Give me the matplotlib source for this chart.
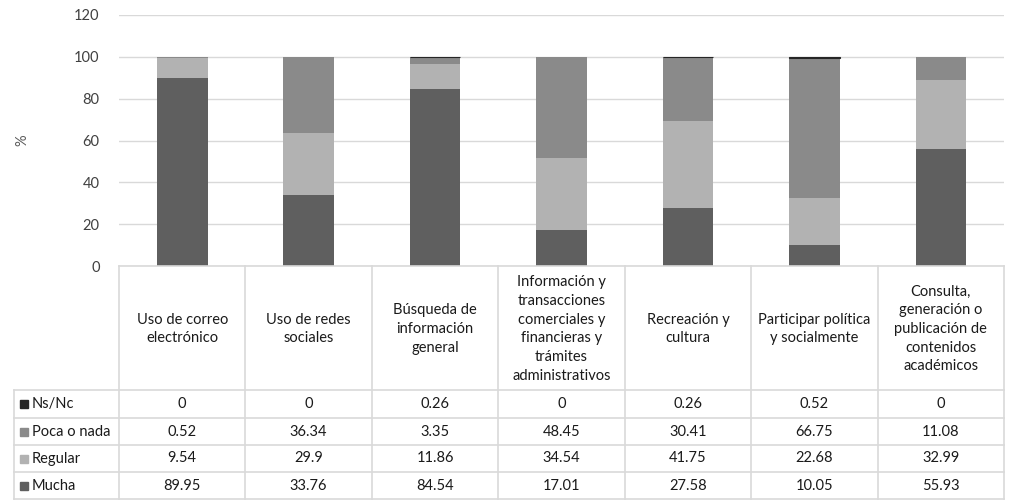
import matplotlib
matplotlib.use("Agg")
import matplotlib.pyplot as plt
import numpy as np

categories = [
    "Uso de correo\nelectrónico",
    "Uso de redes\nsociales",
    "Búsqueda de\ninformación\ngeneral",
    "Información y\ntransacciones\ncomerciales y\nfinancieras y\ntrámites\nadministrativos",
    "Recreación y\ncultura",
    "Participar política\ny socialmente",
    "Consulta,\ngeneración o\npublicación de\ncontenidos\nacadémicos",
]
mucha = [89.95, 33.76, 84.54, 17.01, 27.58, 10.05, 55.93]
regular = [9.54, 29.9, 11.86, 34.54, 41.75, 22.68, 32.99]
poca = [0.52, 36.34, 3.35, 48.45, 30.41, 66.75, 11.08]
nsnc = [0, 0, 0.26, 0, 0.26, 0.52, 0]
series_names = ["Mucha", "Regular", "Poca o nada", "Ns/Nc"]
series_vals = [mucha, regular, poca, nsnc]
colors = ["#5f5f5f", "#b2b2b2", "#8a8a8a", "#262626"]
yticks = [0, 20, 40, 60, 80, 100, 120]

plt.rcParams['font.family'] = ['Lato', 'DejaVu Sans']
FS = 10.5

W, H = 1022, 500
fig = plt.figure(figsize=(W / 100, H / 100), dpi=100)

# pixel layout
px_left, px_right = 119, 1004
px_top, px_base = 15, 266
tbl_left = 14
row_edges = [390, 418, 445, 472, 499]

ax = fig.add_axes([px_left / W, 1 - px_base / H, (px_right - px_left) / W, (px_base - px_top) / H])
n = len(categories)
x = np.arange(n)
bottom = np.zeros(n)
for name, vals, c in zip(series_names, series_vals, colors):
    ec = [c if v > 0 else 'none' for v in vals]
    lw = 0.8 if name == "Ns/Nc" else 0
    ax.bar(x, vals, bottom=bottom, width=0.4, color=c, edgecolor=ec, linewidth=lw, zorder=3)
    bottom += np.array(vals)
ax.set_xlim(-0.5, n - 0.5)
ax.set_ylim(0, 120)
ax.set_yticks(yticks)
ax.set_yticklabels([str(t) for t in yticks], fontsize=FS, color="#404040")
ax.tick_params(axis='y', length=0, pad=14)
ax.set_xticks([])
ax.grid(axis='y', color="#d9d9d9", linewidth=1, zorder=0)
for s in ax.spines.values():
    s.set_visible(False)
fig.text(22 / W, 1 - 140 / H, "%", rotation=90, ha='center', va='center', fontsize=FS, color="#595959")

# table axes in pixel coordinates
tax = fig.add_axes([0, 0, 1, 1])
tax.set_xlim(0, W)
tax.set_ylim(H, 0)
tax.axis('off')
gc = "#d9d9d9"
colw = (px_right - px_left) / n
# header row
tax.plot([px_left, px_right], [px_base, px_base], color=gc, lw=1.2)
for i in range(n + 1):
    xx = px_left + i * colw
    tax.plot([xx, xx], [px_base, row_edges[-1]], color=gc, lw=1.2)
for i, cat in enumerate(categories):
    tax.text(px_left + (i + 0.5) * colw, (px_base + row_edges[0]) / 2 + 1, cat,
             ha='center', va='center', fontsize=FS, linespacing=1.42, color="#1a1a1a")
# data rows
for yy in row_edges:
    tax.plot([tbl_left, px_right], [yy, yy], color=gc, lw=1.2)
tax.plot([tbl_left, tbl_left], [row_edges[0], row_edges[-1]], color=gc, lw=1.2)
rows = list(zip(series_names, series_vals, colors))[::-1]
for r, (name, vals, c) in enumerate(rows):
    yc = (row_edges[r] + row_edges[r + 1]) / 2
    tax.add_patch(plt.Rectangle((tbl_left + 6, yc - 4), 8, 8, color=c))
    tax.text(tbl_left + 18, yc, name, ha='left', va='center', fontsize=FS, color="#1a1a1a")
    for i, v in enumerate(vals):
        tax.text(px_left + (i + 0.5) * colw, yc, f"{v:g}", ha='center', va='center',
                 fontsize=FS, color="#1a1a1a")

fig.savefig("out.png", dpi=100)
